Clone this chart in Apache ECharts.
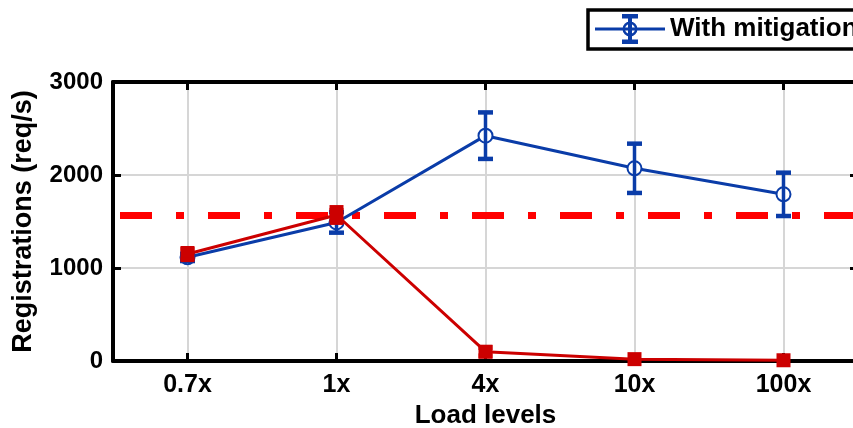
<!DOCTYPE html>
<html>
<head>
<meta charset="utf-8">
<script src="https://cdn.jsdelivr.net/npm/echarts@6/dist/echarts.min.js"></script>
<style>
  html, body { margin: 0; padding: 0; background: #ffffff; }
  #chart { width: 853px; height: 428px; }
</style>
</head>
<body>
<div id="chart"></div>
<script>
// ---- data ----
const categories = ['0.7x', '1x', '4x', '10x', '100x'];
const withMitigation = [1115, 1490, 2423, 2072, 1792];
const withMitigationErr = [40, 110, 250, 265, 233];
const withoutMitigation = [1150, 1570, 100, 20, 8];
const withoutMitigationErr = [60, 80, 45, 0, 0];
const capacityLevel = 1565;
const yMin = 0, yMax = 3000, yStep = 1000;

// ---- styles ----
const BLUE = '#0a3ca8';
const RED = '#cc0000';
const FONT = "'Liberation Sans', Arial, sans-serif";

function errData(vals, errs) {
  return vals.map((v, i) => [i, v - errs[i], v + errs[i]]);
}

function errorBarRender(color, capW, lw, capLw) {
  return function (params, api) {
    const x = api.value(0);
    const lo = api.coord([x, api.value(1)]);
    const hi = api.coord([x, api.value(2)]);
    if (Math.abs(hi[1] - lo[1]) < 0.5) return;
    const style = { stroke: color, lineWidth: lw, fill: null };
    const capStyle = { stroke: color, lineWidth: capLw, fill: null };
    return {
      type: 'group',
      children: [
        { type: 'line', shape: { x1: lo[0], y1: lo[1], x2: hi[0], y2: hi[1] }, style: style },
        { type: 'line', shape: { x1: lo[0] - capW / 2, y1: lo[1], x2: lo[0] + capW / 2, y2: lo[1] }, style: capStyle },
        { type: 'line', shape: { x1: hi[0] - capW / 2, y1: hi[1], x2: hi[0] + capW / 2, y2: hi[1] }, style: capStyle }
      ]
    };
  };
}

const legendIcon = 'path://M0 13.5H70V16.5H0Z M33 0H37V30H33Z M27 0H43V4.5H27Z M27 25.5H43V30H27Z M42.5 15A7.5 7.5 0 1 1 27.5 15A7.5 7.5 0 1 1 42.5 15Z M40 15A5 5 0 1 0 30 15A5 5 0 1 0 40 15Z';

const chart = echarts.init(document.getElementById('chart'), null, { renderer: 'canvas' });

const AXIS_Z = 1.5;

const option = {
  backgroundColor: '#ffffff',
  animation: false,
  textStyle: { fontFamily: FONT },
  legend: {
    left: 588,
    top: 10,
    orient: 'horizontal',
    padding: [4, 20, 5, 7],
    borderColor: '#000000',
    borderWidth: 3.5,
    backgroundColor: '#ffffff',
    itemWidth: 70,
    itemHeight: 30,
    data: [{ name: 'With mitigation', icon: legendIcon, itemStyle: { color: BLUE, borderWidth: 0 } }],
    textStyle: { fontFamily: FONT, fontWeight: 'bold', fontSize: 26, color: '#000000' }
  },
  grid: { left: 113, top: 82, width: 745, height: 279, containLabel: false, outerBoundsMode: 'none' },
  xAxis: [
    {
      type: 'category',
      data: categories,
      position: 'bottom',
      z: AXIS_Z,
      boundaryGap: true,
      axisLine: { show: true, onZero: false, lineStyle: { color: '#000000', width: 4 } },
      axisTick: { show: true, inside: true, alignWithLabel: true, length: 8, lineStyle: { color: '#000000', width: 3 } },
      axisLabel: { margin: 12, color: '#000000', fontFamily: FONT, fontWeight: 'bold', fontSize: 25 },
      splitLine: { show: false },
      name: 'Load levels',
      nameLocation: 'middle',
      nameGap: 37,
      nameTextStyle: { color: '#000000', fontFamily: FONT, fontWeight: 'bold', fontSize: 26 }
    },
    {
      type: 'category',
      data: categories,
      position: 'top',
      z: AXIS_Z,
      boundaryGap: true,
      axisLine: { show: true, onZero: false, lineStyle: { color: '#000000', width: 4 } },
      axisTick: { show: true, inside: true, alignWithLabel: true, length: 8, lineStyle: { color: '#000000', width: 3 } },
      axisLabel: { show: false },
      splitLine: { show: false }
    }
  ],
  yAxis: [
    {
      type: 'value',
      min: yMin,
      max: yMax,
      interval: yStep,
      position: 'left',
      z: AXIS_Z,
      axisLine: { show: true, onZero: false, lineStyle: { color: '#000000', width: 4 } },
      axisTick: { show: true, inside: true, length: 8, lineStyle: { color: '#000000', width: 3 } },
      axisLabel: { margin: 10, color: '#000000', fontFamily: FONT, fontWeight: 'bold', fontSize: 24, formatter: v => String(v) },
      splitLine: { show: true, lineStyle: { color: '#d6d6d6', width: 2 } },
      name: 'Registrations (req/s)',
      nameLocation: 'middle',
      nameGap: 76,
      nameTextStyle: { color: '#000000', fontFamily: FONT, fontWeight: 'bold', fontSize: 27 }
    },
    {
      type: 'value',
      min: yMin,
      max: yMax,
      interval: yStep,
      position: 'right',
      z: AXIS_Z,
      axisLine: { show: true, onZero: false, lineStyle: { color: '#000000', width: 4 } },
      axisTick: { show: true, inside: true, length: 8, lineStyle: { color: '#000000', width: 3 } },
      axisLabel: { show: false },
      splitLine: { show: false }
    }
  ],
  series: [
    {
      name: 'vgrid',
      type: 'line',
      data: [],
      silent: true,
      z: 1,
      markLine: {
        z: 1,
        silent: true,
        symbol: 'none',
        label: { show: false },
        lineStyle: { color: '#d6d6d6', width: 2, type: 'solid' },
        data: categories.map(c => ({ xAxis: c }))
      }
    },
    {
      name: 'capacity',
      type: 'line',
      data: [],
      silent: true,
      z: 2,
      markLine: {
        z: 2,
        silent: true,
        symbol: 'none',
        label: { show: false },
        lineStyle: { color: '#ff0000', width: 7, type: [32, 24, 8, 24], dashOffset: 81, cap: 'butt' },
        data: [{ yAxis: capacityLevel }]
      }
    },
    {
      name: 'With mitigation',
      type: 'line',
      data: withMitigation,
      z: 3,
      symbol: 'emptyCircle',
      symbolSize: 14,
      showAllSymbol: true,
      lineStyle: { color: BLUE, width: 3 },
      itemStyle: { color: BLUE, borderColor: BLUE, borderWidth: 2.5 }
    },
    {
      name: 'With mitigation err',
      type: 'custom',
      data: errData(withMitigation, withMitigationErr),
      encode: { x: 0, y: [1, 2] },
      z: 4,
      silent: true,
      renderItem: errorBarRender(BLUE, 15, 3.5, 4.5)
    },
    {
      name: 'Without mitigation',
      type: 'line',
      data: withoutMitigation,
      z: 5,
      symbol: 'rect',
      symbolSize: 14,
      showAllSymbol: true,
      lineStyle: { color: RED, width: 3 },
      itemStyle: { color: RED, borderColor: RED, borderWidth: 0 }
    },
    {
      name: 'Without mitigation err',
      type: 'custom',
      data: errData(withoutMitigation, withoutMitigationErr),
      encode: { x: 0, y: [1, 2] },
      z: 6,
      silent: true,
      renderItem: errorBarRender(RED, 14, 5, 5)
    }
  ]
};

chart.setOption(option);
</script>
</body>
</html>
